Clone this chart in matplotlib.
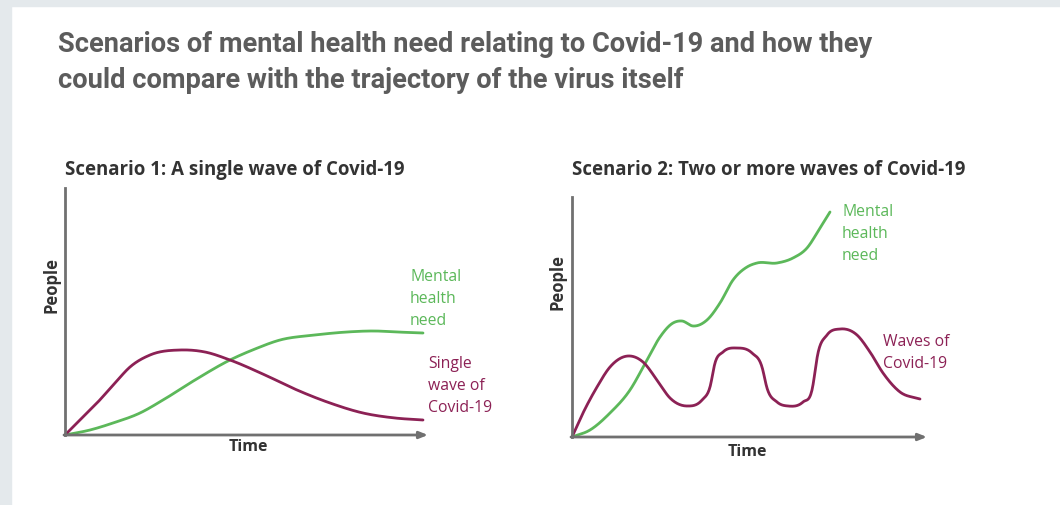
import numpy as np
import matplotlib.pyplot as plt
from matplotlib.patches import Rectangle

# data (x = time, y = people, arbitrary units)
s1_virus_x = [0, 14, 32, 50, 65, 85, 115, 140, 165, 200, 232, 265, 298, 330, 358]
s1_virus_y = [0, 14, 32, 52, 68, 80, 85, 83, 75, 60, 45, 32, 22, 17, 15]
s1_need_x = [0, 25, 48, 75, 98, 130, 165, 190, 215, 250, 282, 310, 332, 358]
s1_need_y = [0, 5, 12, 22, 35, 55, 75, 86, 95, 100, 103, 104, 103, 102]

s2_virus_x = [0, 11, 25, 38, 56, 71, 85, 98, 115, 130, 138, 143, 151, 165, 180, 190, 195,
              205, 216, 231, 240, 246, 255, 268, 285, 298, 311, 328, 348]
s2_virus_y = [0, 24, 50, 70, 81, 75, 57, 39, 31, 37, 50, 74, 85, 89, 84, 70, 49,
              35, 31, 35, 47, 84, 102, 108, 102, 85, 64, 45, 38]
s2_need_x = [0, 18, 38, 58, 75, 88, 101, 110, 121, 135, 148, 161, 175, 185, 205, 221, 235, 248, 258]
s2_need_y = [0, 7, 24, 47, 77, 100, 114, 116, 111, 117, 134, 157, 170, 174, 174, 179, 189, 209, 225]

GREEN = '#5cb85a'
PURPLE = '#8c2155'
AXIS = '#707070'


def smooth(x, y, n=600):
    # cubic hermite through the read points (3-point slopes), only for drawing
    x = np.asarray(x, float)
    y = np.asarray(y, float)
    h = np.diff(x)
    dl = np.diff(y) / h
    d = np.zeros_like(y)
    d[0], d[-1] = dl[0], dl[-1]
    d[1:-1] = (dl[:-1] * h[1:] + dl[1:] * h[:-1]) / (h[:-1] + h[1:])
    xs = np.linspace(x[0], x[-1], n)
    j = np.clip(np.searchsorted(x, xs) - 1, 0, len(x) - 2)
    t = (xs - x[j]) / h[j]
    ys = ((2 * t ** 3 - 3 * t ** 2 + 1) * y[j] + (t ** 3 - 2 * t ** 2 + t) * h[j] * d[j]
          + (-2 * t ** 3 + 3 * t ** 2) * y[j + 1] + (t ** 3 - t ** 2) * h[j] * d[j + 1])
    return xs, ys


W, H = 1060, 505
fig = plt.figure(figsize=(W / 100, H / 100), dpi=100)
fig.patch.set_facecolor('white')

# grey frame on top and left
fig.add_artist(Rectangle((0, 1 - 6 / H), 1, 6 / H, transform=fig.transFigure, color='#e4e9ec', zorder=0))
fig.add_artist(Rectangle((0, 0), 11 / W, 1, transform=fig.transFigure, color='#e4e9ec', zorder=0))

for yy, line in [(45, 'Scenarios of mental health need relating to Covid-19 and how they'),
                 (80, 'could compare with the trajectory of the virus itself')]:
    fig.text(58 / W, 1 - yy / H, line, fontsize=19.6, color='#5c5c5c', fontweight='bold',
             family='Roboto', va='center')


def panel(left, top, right, bottom, title, curves, labels, time_xy, people_xy):
    ax = fig.add_axes([left / W, 1 - bottom / H, (right - left) / W, (bottom - top) / H])
    ax.set_xlim(0, right - left)
    ax.set_ylim(0, bottom - top)
    for side in ['top', 'right', 'bottom']:
        ax.spines[side].set_visible(False)
    ax.spines['left'].set_color(AXIS)
    ax.spines['left'].set_linewidth(2)
    ax.annotate('', xy=(right - left, 0), xytext=(-1, 0),
                arrowprops=dict(arrowstyle='-|>,head_length=0.5,head_width=0.2', color=AXIS, lw=2,
                                shrinkA=0, shrinkB=0))
    ax.set_xticks([])
    ax.set_yticks([])
    ax.patch.set_alpha(0)
    for x, y, c in curves:
        sx, sy = smooth(x, y)
        ax.plot(sx, sy, color=c, lw=2, solid_capstyle='round', solid_joinstyle='round', clip_on=False)
    for px, py, txt, c in labels:
        fig.text(px / W, 1 - py / H, txt, color=c, fontsize=11.3, family='Open Sans',
                 va='top', linespacing=1.5)
    fig.text(left / W, 1 - 170 / H, title, fontsize=13.4, fontweight='bold', color='#333333',
             family='Open Sans', va='center')
    fig.text(time_xy[0] / W, 1 - time_xy[1] / H, 'Time', fontsize=11.5, fontweight='bold',
             color='#333333', family='Open Sans', ha='center', va='center')
    fig.text(people_xy[0] / W, 1 - people_xy[1] / H, 'People', fontsize=12, fontweight='bold',
             color='#333333', family='Open Sans', ha='center', va='center', rotation=90)
    return ax


panel(65, 188, 428, 435, 'Scenario 1: A single wave of Covid-19',
      [(s1_need_x, s1_need_y, GREEN), (s1_virus_x, s1_virus_y, PURPLE)],
      [(410, 269, 'Mental\nhealth\nneed', GREEN), (428, 356, 'Single\nwave of\nCovid-19', PURPLE)],
      (248, 447), (51, 285))

panel(572, 197, 927, 437, 'Scenario 2: Two or more waves of Covid-19',
      [(s2_need_x, s2_need_y, GREEN), (s2_virus_x, s2_virus_y, PURPLE)],
      [(842, 204, 'Mental\nhealth\nneed', GREEN), (883, 334, 'Waves of\nCovid-19', PURPLE)],
      (747, 452), (557, 282))

fig.savefig('out.png', dpi=100)
